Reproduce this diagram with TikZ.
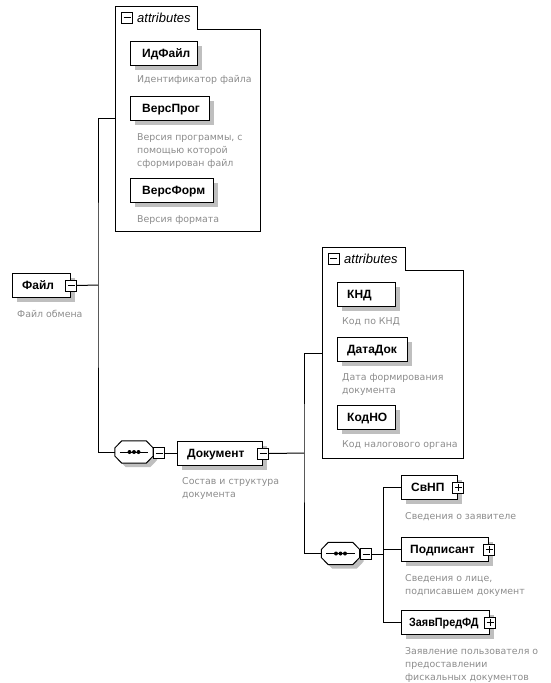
\documentclass[tikz,border=0pt]{standalone}
\usepackage{fontspec}
\setmainfont{Liberation Sans}
\newfontfamily\descfont{DejaVu Sans}
\usetikzlibrary{shadows}
\begin{document}
\begin{tikzpicture}[x=1pt,y=-1pt,
  conn/.style={line width=1pt},
  shad/.style={drop shadow={shadow xshift=4pt,shadow yshift=-4pt,fill=black!25,opacity=1}},
  elem/.style={draw, line width=1pt, fill=white, inner sep=0pt, minimum height=24pt, anchor=north west, shad},
  lbl/.style={font=\fontsize{12}{14}\selectfont\bfseries, anchor=base west, inner sep=0pt},
  desc/.style={font=\descfont\fontsize{9.4}{13}\selectfont, text=black!45, align=left, anchor=base west, inner sep=0pt},
  tgl/.style={draw, fill=white, line width=0.9pt, minimum size=11pt, inner sep=0pt},
  minus/.style={tgl, path picture={\draw[line width=0.9pt] ([xshift=2pt]path picture bounding box.west) -- ([xshift=-2pt]path picture bounding box.east);}},
  plus/.style={tgl, path picture={\draw[line width=0.9pt] ([xshift=2pt]path picture bounding box.west) -- ([xshift=-2pt]path picture bounding box.east) ([yshift=-2pt]path picture bounding box.north) -- ([yshift=2pt]path picture bounding box.south);}},
  seqbox/.style={rectangle, minimum width=38pt, minimum height=22pt, inner sep=0pt},
  attrs/.style={draw, line width=1pt},
  attrlbl/.style={font=\fontsize{13}{15}\selectfont\itshape, anchor=base west, inner sep=0pt}
]
\useasboundingbox (0,0) rectangle (551,683);

% ---------- top attributes group ----------
\draw[attrs] (115,6) -- (197,6) -- (197,29) -- (260,29) -- (260,231) -- (115,231) -- cycle;
\node[minus] (a1m) at (127,17.5) {};
\node[attrlbl] (a1t) at (137,22) {attributes};
\coordinate (a1in) at (115,118);

\node[elem, minimum width=67pt] (idf) at (130,41) {};
\node[lbl] (idft) at (142,57.5) {ИдФайл};
\node[desc] (idfd) at (137,82) {Идентификатор файла};

\node[elem, minimum width=79pt] (vprog) at (130,96) {};
\node[lbl] (vprogt) at (142,112.5) {ВерсПрог};
\node[desc] (vprogd) at (137,166) {Версия программы, с\\помощью которой\\сформирован файл};

\node[elem, minimum width=83pt] (vform) at (130,178) {};
\node[lbl] (vformt) at (142,194.5) {ВерсФорм};
\node[desc] (vformd) at (137,222) {Версия формата};

% ---------- root ----------
\node[elem, minimum width=58pt] (file) at (12,273) {};
\node[lbl] (filet) at (22,289.5) {Файл};
\node[minus] (filem) at (file.east) {};
\node[desc] (filed) at (17,317) {Файл обмена};
\coordinate (j1) at (98,285);

% ---------- sequence 1 ----------
\node[seqbox] (seq1s) at (138,456) {};
\node[seqbox] (seq1) at (134,452) {};
\fill[black!25] ([yshift=4pt]seq1s.west) -- ([xshift=7pt]seq1s.north west) -- ([xshift=-7pt]seq1s.north east) -- ([yshift=4pt]seq1s.east) -- ([yshift=-4pt]seq1s.east) -- ([xshift=-7pt]seq1s.south east) -- ([xshift=7pt]seq1s.south west) -- ([yshift=-4pt]seq1s.west) -- cycle;
\draw[line width=1pt, fill=white] ([yshift=4pt]seq1.west) -- ([xshift=7pt]seq1.north west) -- ([xshift=-7pt]seq1.north east) -- ([yshift=4pt]seq1.east) -- ([yshift=-4pt]seq1.east) -- ([xshift=-7pt]seq1.south east) -- ([xshift=7pt]seq1.south west) -- ([yshift=-4pt]seq1.west) -- cycle;
\draw[line width=0.9pt] ([xshift=5pt]seq1.west) -- ([xshift=-5pt]seq1.east);
\fill (seq1.center) circle (2pt) ([xshift=-4.5pt]seq1.center) circle (2pt) ([xshift=4.5pt]seq1.center) circle (2pt);
\node[minus] (seq1m) at (159,453) {};

\node[elem, minimum width=85pt] (doc) at (177,441) {};
\node[lbl] (doct) at (187,457.5) {Документ};
\node[minus] (docm) at (doc.east) {};
\node[desc] (docd) at (182,497) {Состав и структура\\документа};
\coordinate (j2) at (304,453);

% ---------- second attributes group ----------
\draw[attrs] (322,247) -- (405,247) -- (405,270) -- (463,270) -- (463,458) -- (322,458) -- cycle;
\node[minus] (a2m) at (333.5,258.5) {};
\node[attrlbl] (a2t) at (344,263) {attributes};
\coordinate (a2in) at (322,353);

\node[elem, minimum width=58pt] (knd) at (337,282) {};
\node[lbl] (kndt) at (347,298.5) {КНД};
\node[desc] (kndd) at (342,324) {Код по КНД};

\node[elem, minimum width=70pt] (dd) at (337,337) {};
\node[lbl] (ddt) at (347,353.5) {ДатаДок};
\node[desc] (ddd) at (342,393) {Дата формирования\\документа};

\node[elem, minimum width=58pt] (kno) at (337,405) {};
\node[lbl] (knot) at (347,421.5) {КодНО};
\node[desc] (knod) at (342,447) {Код налогового органа};

% ---------- sequence 2 ----------
\node[seqbox] (seq2s) at (344.5,557.5) {};
\node[seqbox] (seq2) at (340.5,553.5) {};
\fill[black!25] ([yshift=4pt]seq2s.west) -- ([xshift=7pt]seq2s.north west) -- ([xshift=-7pt]seq2s.north east) -- ([yshift=4pt]seq2s.east) -- ([yshift=-4pt]seq2s.east) -- ([xshift=-7pt]seq2s.south east) -- ([xshift=7pt]seq2s.south west) -- ([yshift=-4pt]seq2s.west) -- cycle;
\draw[line width=1pt, fill=white] ([yshift=4pt]seq2.west) -- ([xshift=7pt]seq2.north west) -- ([xshift=-7pt]seq2.north east) -- ([yshift=4pt]seq2.east) -- ([yshift=-4pt]seq2.east) -- ([xshift=-7pt]seq2.south east) -- ([xshift=7pt]seq2.south west) -- ([yshift=-4pt]seq2.west) -- cycle;
\draw[line width=0.9pt] ([xshift=5pt]seq2.west) -- ([xshift=-5pt]seq2.east);
\fill (seq2.center) circle (2pt) ([xshift=-4.5pt]seq2.center) circle (2pt) ([xshift=4.5pt]seq2.center) circle (2pt);
\node[minus] (seq2m) at (366,554) {};
\coordinate (j3) at (383,554);

\node[elem, minimum width=56pt] (svnp) at (401,475) {};
\node[lbl] (svnpt) at (411,491.5) {СвНП};
\node[plus] (svnpp) at (svnp.east) {};
\node[desc] (svnpd) at (405,519) {Сведения о заявителе};

\node[elem, minimum width=87pt] (podp) at (401,537) {};
\node[lbl] (podpt) at (410,553.5) {Подписант};
\node[plus] (podpp) at (podp.east) {};
\node[desc] (podpd) at (405,594) {Сведения о лице,\\подписавшем документ};

\node[elem, minimum width=88pt] (zay) at (401,610) {};
\node[lbl] (zayt) at (409,626.5) {\scalebox{0.9}[1]{ЗаявПредФД}};
\node[plus] (zayp) at (zay.east) {};
\node[desc] (zayd) at (405,680) {Заявление пользователя о\\предоставлении\\фискальных документов};

% ---------- connectors ----------
\draw[conn] (filem.east) -- (j1);
\draw[conn] (a1in) -| (j1) |- (seq1.west);
\draw[conn] (seq1m.east) -- (doc.west |- seq1m.east);
\draw[conn] (docm.east) -- (j2);
\draw[conn] (a2in) -| (j2) |- (seq2.west);
\draw[conn] (seq2m.east) -- (j3);
\draw[conn] (svnp.west) -| (j3);
\draw[conn] (podp.west) -| (j3);
\draw[conn] (zay.west) -| (j3);
\end{tikzpicture}
\end{document}
